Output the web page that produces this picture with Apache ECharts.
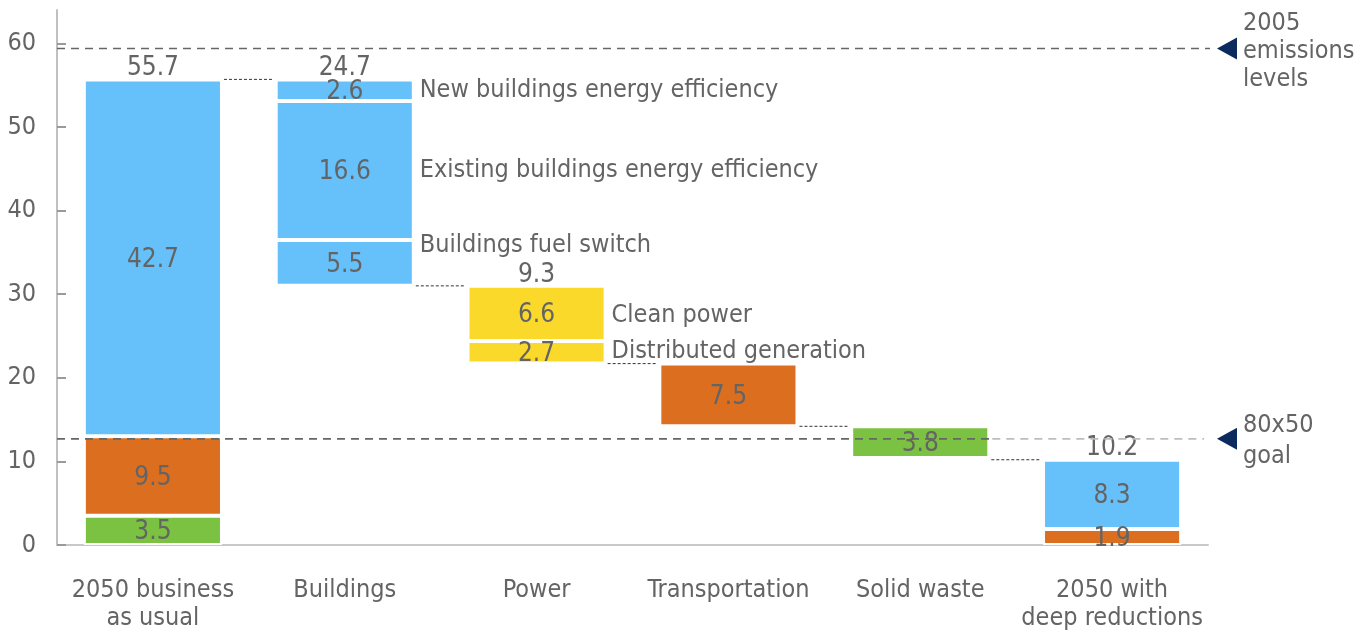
<!DOCTYPE html>
<html>
<head>
<meta charset="utf-8">
<script src="https://cdn.jsdelivr.net/npm/echarts@6/dist/echarts.min.js"></script>
<style>
  html, body { margin: 0; padding: 0; background: #fff; }
  #chart { width: 1372px; height: 632px; }
</style>
</head>
<body>
<div id="chart"></div>
<script>
// categories and stacked segments (bottom -> top)
var categories = ['2050 business\nas usual', 'Buildings', 'Power', 'Transportation', 'Solid waste', '2050 with\ndeep reductions'];
var segBottom = [3.5, 5.5, 2.7, 7.5, 3.8, 1.9];
var segMiddle = [9.5, 16.6, 6.6, null, null, 8.3];
var segTop = [42.7, 2.6, null, null, null, null];
var colBottom = ['green', 'blue', 'yellow', 'orange', 'green', 'orange'];
var colMiddle = ['orange', 'blue', 'yellow', null, null, 'blue'];
var colTop = ['blue', 'blue', null, null, null, null];
var isReduction = [false, true, true, true, true, false];
var showTotal = [true, true, true, false, false, true];
var yTicks = [0, 10, 20, 30, 40, 50, 60];
var level2005 = 59.4;
var levelGoal = 12.7;
var buildingNotes = ['Buildings fuel switch', 'Existing buildings energy efficiency', 'New buildings energy efficiency'];
var powerNotes = ['Distributed generation', 'Clean power'];

var palette = { blue: '#66c1fb', orange: '#dc6e1f', green: '#7cc242', yellow: '#fbd92b' };
var FONT = '"DejaVu Sans Condensed", "Liberation Sans Narrow", sans-serif';
var GREY = '#646464';
var GRID_L = 57, GRID_R = 164;
var BAR = 0.72;

function sumOf(i) {
  return +((segBottom[i] || 0) + (segMiddle[i] || 0) + (segTop[i] || 0)).toFixed(1);
}
var totals = categories.map(function (c, i) { return sumOf(i); });
var bases = [];
var running = 0;
categories.forEach(function (c, i) {
  if (isReduction[i]) { running = +(running - totals[i]).toFixed(1); bases.push(running); }
  else { bases.push(0); running = totals[i]; }
});
var tops = bases.map(function (b, i) { return +(b + totals[i]).toFixed(1); });

function segData(vals, cols) {
  return vals.map(function (v, i) {
    if (v == null) return '-';
    return { value: v, itemStyle: { color: palette[cols[i]] } };
  });
}

var segLabel = {
  show: true, position: 'inside', color: GREY,
  fontFamily: FONT, fontSize: 26, offset: [0, 2],
  formatter: function (p) { return p.value.toFixed(1); }
};
var segStyle = { borderColor: '#fff', borderWidth: 2 };

// side notes anchored at segment centres
var notes = [];
function addNotes(ci, list, shifts) {
  var lo = bases[ci];
  var segs = [segBottom[ci], segMiddle[ci], segTop[ci]];
  list.forEach(function (txt, k) {
    var h = segs[k];
    notes.push({
      value: [ci, lo + h / 2],
      label: { formatter: txt, offset: [0, shifts[k]] }
    });
    lo += h;
  });
}
addNotes(1, buildingNotes, [-17, 0, 0]);
addNotes(2, powerNotes, [-1, 2]);

var totalPoints = [];
categories.forEach(function (c, i) {
  if (showTotal[i]) totalPoints.push({ value: [i, tops[i]], label: { formatter: totals[i].toFixed(1) } });
});

var connectors = [];
for (var i = 0; i < categories.length - 1; i++) {
  connectors.push([i, Math.min(tops[i], tops[i + 1])]);
}

var myChart = echarts.init(document.getElementById('chart'));
var option = {
  animation: false,
  grid: { left: GRID_L, right: GRID_R, top: 10, bottom: 87 },
  xAxis: {
    type: 'category',
    data: categories,
    axisLine: { lineStyle: { color: '#c8c8c8', width: 2 } },
    axisTick: { show: false },
    axisLabel: { color: GREY, fontFamily: FONT, fontSize: 25, lineHeight: 28, margin: 31, interval: 0 }
  },
  yAxis: {
    type: 'value', min: 0, max: 64, interval: 10,
    splitLine: { show: false },
    axisLine: { show: true, lineStyle: { color: '#c0c0c0', width: 2 } },
    axisTick: { show: true, inside: true, length: 9, lineStyle: { color: '#9a9a9a', width: 2 }, customValues: yTicks },
    axisLabel: { color: GREY, fontFamily: FONT, fontSize: 25, margin: 21, customValues: yTicks }
  },
  series: [
    { type: 'bar', stack: 'w', barWidth: (BAR * 100) + '%', silent: true, itemStyle: { color: 'transparent' }, data: bases },
    { type: 'bar', stack: 'w', silent: true, itemStyle: segStyle, label: segLabel, data: segData(segBottom, colBottom) },
    { type: 'bar', stack: 'w', silent: true, itemStyle: segStyle, label: segLabel, data: segData(segMiddle, colMiddle) },
    { type: 'bar', stack: 'w', silent: true, itemStyle: segStyle, label: segLabel, data: segData(segTop, colTop) },
    {
      type: 'scatter', symbolSize: 0, silent: true, z: 5, itemStyle: { opacity: 1 },
      label: { show: true, position: 'top', distance: -2, color: GREY, fontFamily: FONT, fontSize: 26 },
      data: totalPoints
    },
    {
      type: 'scatter', symbolSize: 0, silent: true, z: 5, itemStyle: { opacity: 1 },
      label: { show: true, position: 'right', distance: 75, color: GREY, fontFamily: FONT, fontSize: 25 },
      data: notes
    },
    {
      type: 'custom', silent: true, z: 4,
      encode: { x: 0, y: 1 },
      data: connectors,
      renderItem: function (params, api) {
        var idx = api.value(0), lvl = api.value(1);
        var p0 = api.coord([idx, lvl]);
        var p1 = api.coord([idx + 1, lvl]);
        var half = api.size([1, 0])[0] * BAR / 2;
        return {
          type: 'line',
          shape: { x1: p0[0] + half + 2, y1: p0[1], x2: p1[0] - half - 2, y2: p1[1] },
          style: { stroke: '#333', lineWidth: 1, lineDash: [3, 2] }
        };
      }
    }
  ]
};
myChart.setOption(option);

// reference levels, drawn from the y scale
var xL = GRID_L, xR = 1372 - GRID_R;
var y05 = myChart.convertToPixel({ yAxisIndex: 0 }, level2005);
var yGoal = myChart.convertToPixel({ yAxisIndex: 0 }, levelGoal);
var half = (xR - xL) / categories.length * BAR / 2;
var xSplit = myChart.convertToPixel({ xAxisIndex: 0 }, 4) + half + 3;
function tri(y) {
  return { type: 'polygon', shape: { points: [[1217, y], [1237, y - 11], [1237, y + 11]] }, style: { fill: '#0b2b5e' }, z: 10 };
}
function note(y, txt, lh) {
  return { type: 'text', x: 1243, y: y, style: { text: txt, fill: GREY, font: '25px ' + FONT, lineHeight: lh, verticalAlign: 'middle', align: 'left' }, z: 10 };
}
myChart.setOption({
  graphic: [
    { type: 'line', shape: { x1: xL, y1: y05, x2: xR + 2, y2: y05 }, style: { stroke: '#666', lineWidth: 1.6, lineDash: [8, 6] }, z: 10 },
    { type: 'line', shape: { x1: xL, y1: yGoal, x2: xSplit, y2: yGoal }, style: { stroke: '#666', lineWidth: 1.6, lineDash: [8, 6] }, z: 10 },
    { type: 'line', shape: { x1: xSplit, y1: yGoal, x2: xR - 4, y2: yGoal }, style: { stroke: '#bdbdbd', lineWidth: 1.6, lineDash: [8, 6] }, z: 10 },
    tri(y05), tri(yGoal),
    note(y05 + 3, '2005\nemissions\nlevels', 28),
    note(yGoal + 2, '80x50\ngoal', 31)
  ]
});
</script>
</body>
</html>
